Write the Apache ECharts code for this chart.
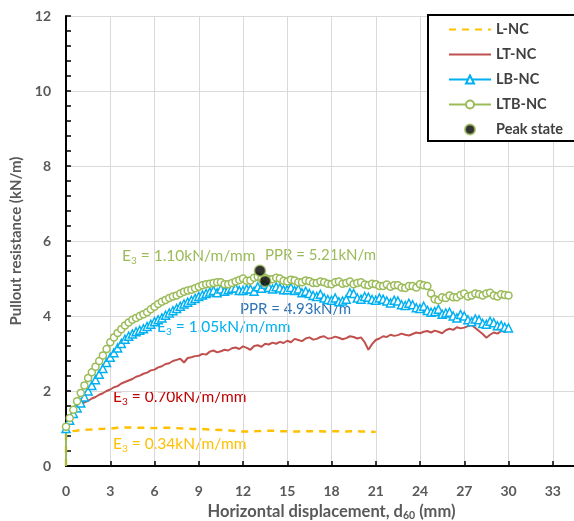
<!DOCTYPE html>
<html>
<head>
<meta charset="utf-8">
<script src="https://cdn.jsdelivr.net/npm/echarts@6/dist/echarts.min.js"></script>
<style>
  html, body { margin: 0; padding: 0; background: #fff; }
  #chart { width: 574px; height: 521px; }
</style>
</head>
<body>
<div id="chart"></div>
<script>
// horizontal displacement (mm) for L-NC; first entry is the curve origin
const dispL = [0, 0, 0.5, 1, 1.5, 2, 2.5, 3, 3.5, 4, 4.5, 5, 5.5, 6, 6.5, 7, 7.5, 8, 8.5, 9, 9.5,
  10, 10.5, 11, 11.5, 12, 12.5, 13, 13.5, 14, 14.5, 15, 15.5, 16, 16.5, 17, 17.5, 18, 18.5, 19, 19.5,
  20, 20.5, 21];

// horizontal displacement (mm) for the other tests; first entry is the curve origin
const disp = [0,
  0, 0.25, 0.5, 0.75, 1, 1.25, 1.5, 1.75,
  2, 2.25, 2.5, 2.75, 3, 3.25, 3.5, 3.75,
  4, 4.25, 4.5, 4.75, 5, 5.25, 5.5, 5.75,
  6, 6.25, 6.5, 6.75, 7, 7.25, 7.5, 7.75,
  8, 8.25, 8.5, 8.75, 9, 9.25, 9.5, 9.75,
  10, 10.25, 10.5, 10.75, 11, 11.25, 11.5, 11.75,
  12, 12.25, 12.5, 12.75, 13, 13.25, 13.5, 13.75,
  14, 14.25, 14.5, 14.75, 15, 15.25, 15.5, 15.75,
  16, 16.25, 16.5, 16.75, 17, 17.25, 17.5, 17.75,
  18, 18.25, 18.5, 18.75, 19, 19.25, 19.5, 19.75,
  20, 20.25, 20.5, 20.75, 21, 21.25, 21.5, 21.75,
  22, 22.25, 22.5, 22.75, 23, 23.25, 23.5, 23.75,
  24, 24.25, 24.5, 24.75, 25, 25.25, 25.5, 25.75,
  26, 26.25, 26.5, 26.75, 27, 27.25, 27.5, 27.75,
  28, 28.25, 28.5, 28.75, 29, 29.25, 29.5, 29.75,
  30];

// pullout resistance (kN/m)
const lNC = [0, 0.85, 0.93, 0.96, 0.97, 0.98, 0.99, 1.0, 1.02, 1.03, 1.03, 1.02, 1.02, 1.01, 1.02, 1.02,
  1.01, 1.0, 0.99, 0.99, 0.98, 0.97, 0.96, 0.95, 0.93, 0.92, 0.92, 0.93, 0.94, 0.94, 0.93, 0.93, 0.92,
  0.92, 0.93, 0.93, 0.92, 0.93, 0.93, 0.92, 0.93, 0.92, 0.92, 0.91];

const ltNC = [0,
  1.0, 1.3, 1.45, 1.58, 1.65, 1.7, 1.74, 1.8,
  1.84, 1.9, 1.94, 2.0, 2.04, 2.1, 2.13, 2.2,
  2.24, 2.28, 2.32, 2.38, 2.41, 2.46, 2.49, 2.55,
  2.57, 2.63, 2.66, 2.72, 2.74, 2.8, 2.83, 2.86,
  2.76, 2.88, 2.9, 2.93, 2.94, 2.99, 2.97, 3.05,
  3.08, 3.03, 3.06, 3.1, 3.08, 3.14, 3.16, 3.12,
  3.19, 3.15, 3.1, 3.2, 3.22, 3.18, 3.26, 3.24,
  3.29, 3.26, 3.31, 3.28, 3.34, 3.3, 3.39, 3.36,
  3.33, 3.4, 3.43, 3.37, 3.39, 3.44, 3.46, 3.4,
  3.41, 3.45, 3.42, 3.38, 3.41, 3.46, 3.44, 3.4,
  3.43, 3.3, 3.1, 3.25, 3.36, 3.4, 3.46, 3.44,
  3.5, 3.47, 3.49, 3.53, 3.5, 3.48, 3.52, 3.56,
  3.54, 3.58, 3.6, 3.56, 3.61, 3.58, 3.54, 3.62,
  3.66, 3.63, 3.7, 3.67, 3.69, 3.73, 3.76, 3.68,
  3.6, 3.52, 3.42, 3.5, 3.56, 3.53, 3.6, 3.58,
  3.63];

const lbNC = [0,
  1.0, 1.22, 1.4, 1.55, 1.68, 1.84, 2.0, 2.15,
  2.3, 2.45, 2.6, 2.76, 2.9, 3.02, 3.15, 3.27,
  3.38, 3.46, 3.52, 3.58, 3.62, 3.66, 3.72, 3.78,
  3.85, 3.9, 3.95, 4.02, 4.08, 4.14, 4.2, 4.26,
  4.32, 4.37, 4.42, 4.47, 4.52, 4.56, 4.6, 4.64,
  4.68, 4.62, 4.72, 4.66, 4.7, 4.74, 4.75, 4.68,
  4.68, 4.72, 4.72, 4.66, 4.78, 4.74, 4.85, 4.76,
  4.72, 4.78, 4.75, 4.7, 4.7, 4.76, 4.68, 4.72,
  4.62, 4.66, 4.6, 4.55, 4.52, 4.58, 4.48, 4.44,
  4.42, 4.48, 4.38, 4.4, 4.45, 4.62, 4.6, 4.48,
  4.45, 4.52, 4.5, 4.44, 4.42, 4.48, 4.45, 4.4,
  4.35, 4.42, 4.4, 4.3, 4.28, 4.34, 4.3, 4.22,
  4.2, 4.26, 4.15, 4.1, 4.12, 4.18, 4.05, 4.08,
  4.1, 4.0, 3.95, 4.04, 4.0, 3.9, 3.85, 3.92,
  3.9, 3.8, 3.78, 3.86, 3.82, 3.74, 3.75, 3.7,
  3.68];

const ltbNC = [0,
  1.05, 1.28, 1.5, 1.73, 1.95, 2.15, 2.35, 2.5,
  2.65, 2.8, 2.95, 3.12, 3.3, 3.43, 3.55, 3.65,
  3.75, 3.83, 3.9, 3.95, 4.0, 4.05, 4.1, 4.18,
  4.25, 4.32, 4.38, 4.43, 4.48, 4.52, 4.55, 4.6,
  4.65, 4.68, 4.7, 4.74, 4.78, 4.82, 4.85, 4.86,
  4.88, 4.9, 4.9, 4.85, 4.85, 4.88, 4.92, 4.96,
  5.0, 4.94, 4.95, 5.02, 5.05, 5.0, 5.02, 4.98,
  4.98, 5.02, 5.0, 4.94, 4.92, 4.97, 4.95, 4.9,
  4.9, 4.95, 4.93, 4.88, 4.88, 4.92, 4.9, 4.86,
  4.85, 4.9, 4.92, 4.86, 4.88, 4.92, 4.85, 4.88,
  4.9, 4.84, 4.82, 4.86, 4.85, 4.8, 4.8, 4.84,
  4.78, 4.82, 4.82, 4.76, 4.75, 4.8, 4.8, 4.76,
  4.85, 4.82, 4.8, 4.6, 4.45, 4.42, 4.5, 4.48,
  4.55, 4.5, 4.5, 4.56, 4.6, 4.52, 4.55, 4.6,
  4.58, 4.55, 4.6, 4.62, 4.55, 4.52, 4.58, 4.56,
  4.55];

// peak states [displacement, resistance]
const peakDisp = [13.15, 13.5];
const peakPPR = [5.21, 4.93];

const xTicks = [0, 3, 6, 9, 12, 15, 18, 21, 24, 27, 30, 33];

const grey = '#595959';
const font = 'Lato, "Open Sans", sans-serif';

function pairs(xs, vals) {
  return vals.map((v, i) => i === 0 ? { value: [xs[i], v], symbol: 'none' } : [xs[i], v]);
}

function e3Text(val) {
  return '{e|E}{s|3}{e| = ' + val + 'kN/m/mm}';
}

function e3Style(color) {
  return {
    rich: {
      e: { fontSize: 15.5, fontFamily: font, fill: color, lineHeight: 20 },
      s: { fontSize: 10, fontFamily: font, fill: color, lineHeight: 10, verticalAlign: 'bottom' }
    }
  };
}

const chart = echarts.init(document.getElementById('chart'));
chart.setOption({
  animation: false,
  backgroundColor: '#fff',
  grid: { left: 66, top: 16, width: 531, height: 450, outerBoundsMode: 'none', containLabel: false },
  legend: {
    orient: 'vertical',
    left: 428,
    top: 15,
    padding: [7, 40, 4, 20],
    itemWidth: 42,
    itemHeight: 10,
    itemGap: 10,
    backgroundColor: '#fff',
    borderColor: '#000',
    borderWidth: 2,
    textStyle: { color: '#404040', fontWeight: 'bold', fontSize: 14.5, fontFamily: font },
    data: [
      { name: 'L-NC', itemStyle: { opacity: 0 } },
      { name: 'LT-NC', itemStyle: { opacity: 0 } },
      'LB-NC', 'LTB-NC', 'Peak state'
    ]
  },
  xAxis: {
    type: 'value',
    min: 0,
    max: 36,
    interval: 3,
    name: '{a|Horizontal displacement, d}{s|60}{a| (mm)}',
    nameLocation: 'middle',
    nameGap: 30,
    nameTextStyle: {
      rich: {
        a: { color: grey, fontWeight: 'bold', fontSize: 16.5, fontFamily: font, lineHeight: 20 },
        s: { color: grey, fontWeight: 'bold', fontSize: 10.5, fontFamily: font, lineHeight: 10, verticalAlign: 'bottom' }
      }
    },
    axisLine: { lineStyle: { color: '#000', width: 2 } },
    axisTick: { inside: true, length: 5, lineStyle: { color: '#000', width: 1.5 } },
    axisLabel: {
      color: grey, fontWeight: 'bold', fontSize: 14, fontFamily: font, margin: 18,
      formatter: v => xTicks.includes(v) ? String(v) : ''
    },
    splitLine: { lineStyle: { color: '#d9d9d9', width: 1 } }
  },
  yAxis: {
    type: 'value',
    min: 0,
    max: 12,
    interval: 2,
    name: 'Pullout resistance (kN/m)',
    nameLocation: 'middle',
    nameGap: 40,
    nameTextStyle: { color: grey, fontWeight: 'bold', fontSize: 15, fontFamily: font },
    axisLine: { lineStyle: { color: '#000', width: 2 } },
    axisTick: { inside: true, length: 5, lineStyle: { color: '#000', width: 1.5 } },
    minorTick: { show: true, splitNumber: 5, length: 5, lineStyle: { color: '#000', width: 1.5 } },
    axisLabel: { color: grey, fontWeight: 'bold', fontSize: 14, fontFamily: font, margin: 15 },
    splitLine: { lineStyle: { color: '#d9d9d9', width: 1 } }
  },
  series: [
    {
      name: 'L-NC', type: 'line', data: pairs(dispL, lNC), symbol: 'none',
      lineStyle: { color: '#FFC000', width: 2.5, type: [7, 6] },
      itemStyle: { color: '#FFC000' }
    },
    {
      name: 'LT-NC', type: 'line', data: pairs(disp, ltNC), symbol: 'none',
      lineStyle: { color: '#C0504D', width: 2 },
      itemStyle: { color: '#C0504D' }
    },
    {
      name: 'LB-NC', type: 'line', data: pairs(disp, lbNC), symbol: 'triangle', symbolSize: 8,
      lineStyle: { color: '#00B0F0', width: 2 },
      itemStyle: { color: '#fff', borderColor: '#00B0F0', borderWidth: 1.5 }
    },
    {
      name: 'LTB-NC', type: 'line', data: pairs(disp, ltbNC), symbol: 'circle', symbolSize: 7,
      lineStyle: { color: '#9BBB59', width: 2 },
      itemStyle: { color: '#fff', borderColor: '#9BBB59', borderWidth: 1.5 }
    },
    {
      name: 'Peak state', type: 'scatter', z: 5,
      data: peakDisp.map((x, i) => [x, peakPPR[i]]),
      symbol: 'circle', symbolSize: 11,
      itemStyle: { color: '#000', borderColor: '#9BBB59', borderWidth: 1.5 }
    }
  ],
  graphic: [
    { type: 'text', left: 122, top: 248, style: Object.assign({ text: e3Text('1.10') }, e3Style('#9BBB59')) },
    { type: 'text', left: 265, top: 248, style: { text: 'PPR = 5.21kN/m', fontSize: 15, fontFamily: font, fill: '#9BBB59' } },
    { type: 'text', left: 240, top: 302, style: { text: 'PPR = 4.93kN/m', fontSize: 15, fontFamily: font, fill: '#2E75B6' } },
    { type: 'text', left: 157, top: 319, style: Object.assign({ text: e3Text('1.05') }, e3Style('#00B0F0')) },
    { type: 'text', left: 113, top: 389, style: Object.assign({ text: e3Text('0.70') }, e3Style('#C00000')) },
    { type: 'text', left: 113, top: 436, style: Object.assign({ text: e3Text('0.34') }, e3Style('#FFC000')) }
  ]
});
</script>
</body>
</html>
